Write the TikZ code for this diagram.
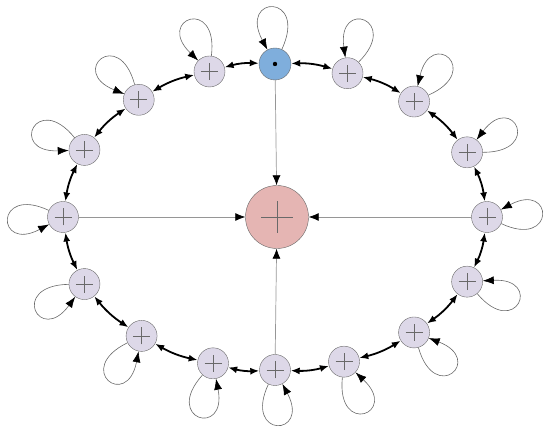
\documentclass[tikz,border=0pt]{standalone}
\usetikzlibrary{arrows.meta}

\definecolor{cellFill}{RGB}{221,216,232}
\definecolor{sourceFill}{RGB}{127,174,220}
\definecolor{sumFill}{RGB}{229,181,179}
\definecolor{edgeGray}{RGB}{105,105,105}
\definecolor{wireGray}{RGB}{150,150,150}

\begin{document}
\begin{tikzpicture}[x=1pt,y=1pt]
\tikzset{plusSign/.style={
path picture={
\draw[edgeGray,line width=0.6pt]
([xshift=-#1]path picture bounding box.center) --
([xshift=#1]path picture bounding box.center)
([yshift=-#1]path picture bounding box.center) --
([yshift=#1]path picture bounding box.center);}}}

\tikzset{cell/.style={
circle,draw=edgeGray,fill=cellFill,thin,
minimum size=31pt,inner sep=0pt,
plusSign=8.5pt}}

\tikzset{cellSource/.style={
circle,draw=edgeGray,fill=sourceFill,thin,
minimum size=32pt,inner sep=0pt,
path picture={\fill[black]
(path picture bounding box.center) circle (2.2pt);}}}

\tikzset{cellSum/.style={
circle,draw=edgeGray,fill=sumFill,thin,
minimum size=63pt,inner sep=0pt,
plusSign=16pt}}

\tikzset{ringLink/.style={
{Latex[length=9pt,width=7pt]}-{Latex[length=9pt,width=7pt]},
black,line width=1.8pt,bend left=9}}

\tikzset{feedLink/.style={
-{Latex[color=black,length=10pt,width=8pt]},
wireGray,line width=0.7pt}}

\tikzset{selfLoop/.style={
-{Latex[color=black,length=11pt,width=8pt]},
edgeGray,line width=0.6pt,looseness=11}}

\useasboundingbox (0,0) rectangle (550,435);

% summing node in the middle
\node[cellSum,name=sum] at (277,218) {};

% ring of cells
\foreach \ang/\idx in {90/1,70/2,49/3,25/4,0/5,-25/6,-49/7,-71/8,
-90/9,-107/10,-129/11,-154/12,180/13,154/14,130/15,108/16}
{
\ifnum\idx=1
\node[cellSource,name=c\idx] at ([shift={(275,218)}]\ang:212 and 153) {};
\else
\node[cell,name=c\idx] at ([shift={(275,218)}]\ang:212 and 153) {};
\fi
\pgfmathsetmacro\outAng{\ang-25}
\pgfmathsetmacro\inAng{\ang+28}
\draw[selfLoop] (c\idx) to[loop,out=\outAng,in=\inAng] (c\idx);
}

% links between neighbours
\foreach \idx [remember=\idx as \prev (initially 16)] in {1,...,16}
\draw[ringLink] (c\prev) to (c\idx);

% links into the sum
\foreach \idx in {1,5,9,13}
\draw[feedLink] (c\idx) -- (sum);

\end{tikzpicture}
\end{document}
